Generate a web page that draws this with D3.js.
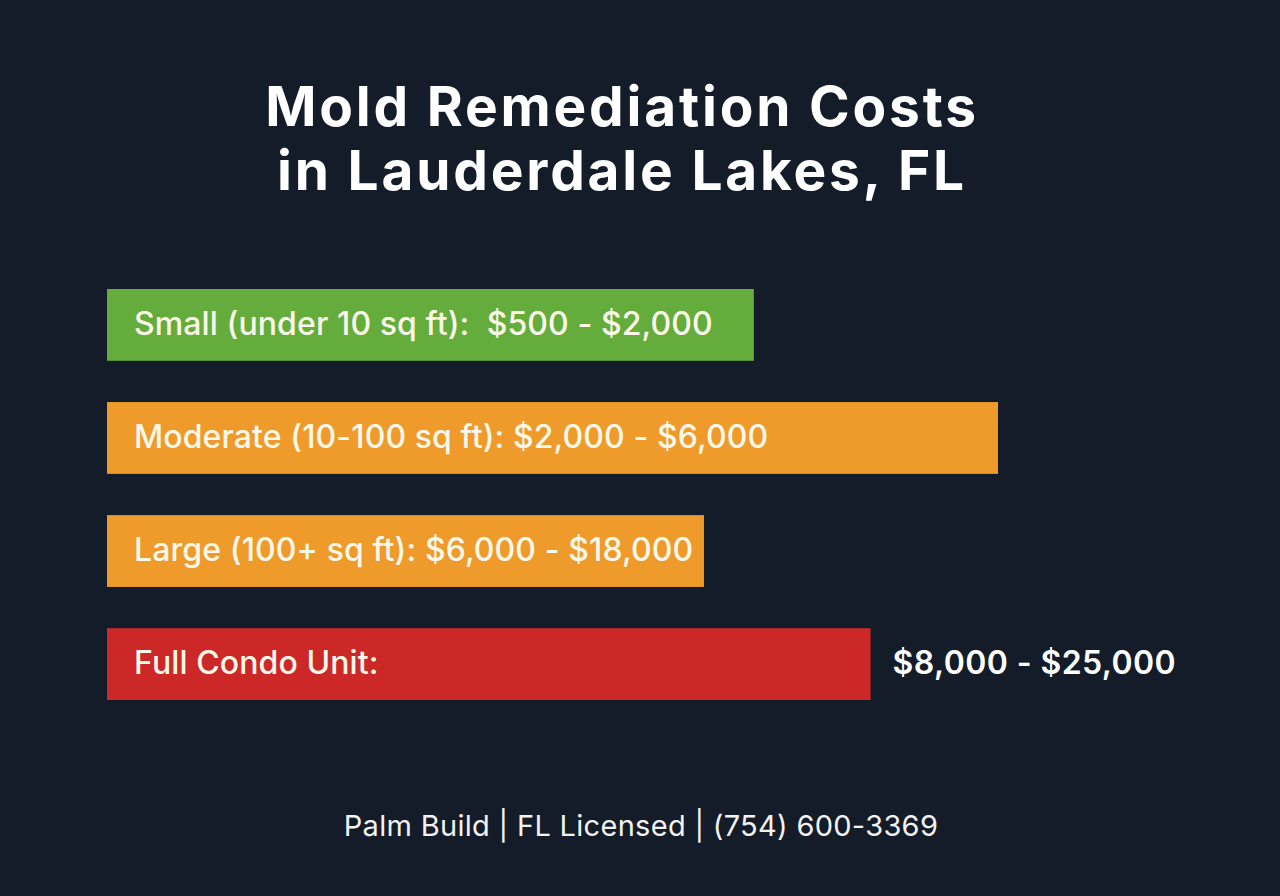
<!DOCTYPE html>
<html><head><meta charset="utf-8">
<script src="https://cdn.jsdelivr.net/npm/d3@7"></script>
<style>
html,body{margin:0;padding:0;background:#131c28;}
svg text{white-space:pre;}
</style></head>
<body>
<script>
const titleLines = ["Mold Remediation Costs", "in Lauderdale Lakes, FL"];
const categories = ["Small", "Moderate", "Large", "Full Condo"];
const insideLabels = ["Small (under 10 sq ft):  $500 - $2,000", "Moderate (10-100 sq ft): $2,000 - $6,000", "Large (100+ sq ft): $6,000 - $18,000", "Full Condo Unit:"];
const outsideLabels = ["", "", "", "$8,000 - $25,000"];
const barLength = [72.6, 100, 67, 85.7];
const colors = ["#64ad3c", "#ef9b2c", "#ef9b2c", "#cd2828"];
const footer = "Palm Build | FL Licensed | (754) 600-3369";

const W = 1280, H = 896;
const svg = d3.select("body").append("svg").attr("width", W).attr("height", H);
svg.append("rect").attr("width", W).attr("height", H).attr("fill", "#131c28");

const font = "Inter, 'Open Sans', sans-serif";

svg.selectAll("text.title").data(titleLines).join("text")
  .attr("class", "title")
  .attr("x", 622).attr("y", (d, i) => 126 + i * 64)
  .attr("text-anchor", "middle")
  .attr("fill", "#ffffff")
  .attr("font-family", font).attr("font-weight", 700).attr("font-size", 55)
  .attr("letter-spacing", 2.8)
  .text(d => d);

const x = d3.scaleLinear().domain([0, 100]).range([107, 998]);
const y = d3.scaleBand().domain(categories).range([289, 700]).paddingInner(0.365).paddingOuter(0);

const rows = svg.selectAll("g.row").data(categories).join("g").attr("class", "row");
rows.append("rect")
  .attr("x", x(0)).attr("y", d => y(d))
  .attr("width", (d, i) => x(barLength[i]) - x(0))
  .attr("height", y.bandwidth())
  .attr("fill", (d, i) => colors[i]);
rows.append("text")
  .attr("x", x(0) + 27).attr("y", d => y(d) + y.bandwidth() / 2)
  .attr("dy", "0.32em")
  .attr("fill", "#fbf8ea")
  .attr("font-family", font).attr("font-weight", 500).attr("font-size", 32)
  .attr("letter-spacing", 0.1)
  .text((d, i) => insideLabels[i]);
rows.append("text")
  .attr("x", (d, i) => x(barLength[i]) + 22).attr("y", d => y(d) + y.bandwidth() / 2)
  .attr("dy", "0.32em")
  .attr("fill", "#ffffff")
  .attr("font-family", font).attr("font-weight", 600).attr("font-size", 32)
  .attr("letter-spacing", 0.4)
  .text((d, i) => outsideLabels[i]);

svg.append("text")
  .attr("x", 641).attr("y", 836)
  .attr("text-anchor", "middle")
  .attr("fill", "#f2f2f2")
  .attr("font-family", font).attr("font-weight", 400).attr("font-size", 29)
  .attr("letter-spacing", 0.3)
  .text(footer);
</script>
</body></html>
